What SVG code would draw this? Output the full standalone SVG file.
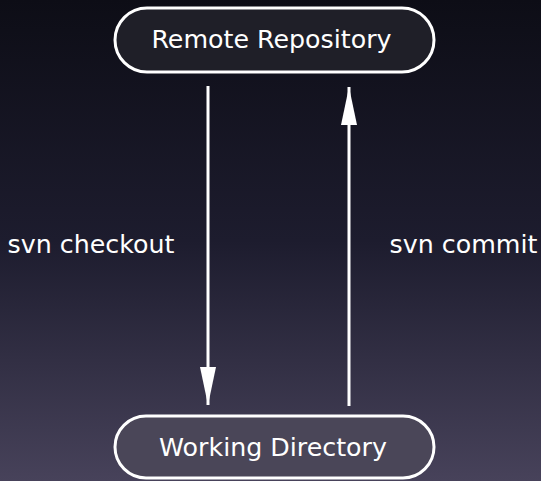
<svg xmlns="http://www.w3.org/2000/svg" width="541" height="481" viewBox="0 0 541 481">
<defs>
<linearGradient id="bg" x1="0" y1="0" x2="0" y2="1">
<stop offset="0" stop-color="#0d0d16"/>
<stop offset="0.5" stop-color="#1d1c2e"/>
<stop offset="1" stop-color="#47425a"/>
</linearGradient>
<marker id="arrow" viewBox="0 0 38 16" refX="38" refY="8" markerWidth="38" markerHeight="16" markerUnits="userSpaceOnUse" orient="auto">
<path d="M0,0 L38,8 L0,16 Z" fill="#ffffff"/>
</marker>
</defs>
<style>
.node rect{stroke:#ffffff;stroke-width:3}
text{font-family:"DejaVu Sans",sans-serif;font-size:25.3px;fill:#ffffff}
.conn line{stroke:#ffffff;stroke-width:3}
</style>
<rect x="0" y="0" width="541" height="481" fill="url(#bg)"/>
<g id="remote" class="node">
<rect x="115" y="8" width="319" height="64" rx="32" ry="32" fill="#1f1f28"/>
<text x="271.5" y="48" text-anchor="middle">Remote Repository</text>
</g>
<g id="working" class="node">
<rect x="115" y="416" width="319" height="62" rx="31" ry="31" fill="#4a4658"/>
<text x="273" y="455.5" text-anchor="middle">Working Directory</text>
</g>
<g id="connectors" class="conn">
<line x1="208" y1="86" x2="208" y2="405" marker-end="url(#arrow)"/>
<line x1="349" y1="406" x2="349" y2="87" marker-end="url(#arrow)"/>
<text x="91" y="253" text-anchor="middle">svn checkout</text>
<text x="463.5" y="253" text-anchor="middle">svn commit</text>
</g>
</svg>
